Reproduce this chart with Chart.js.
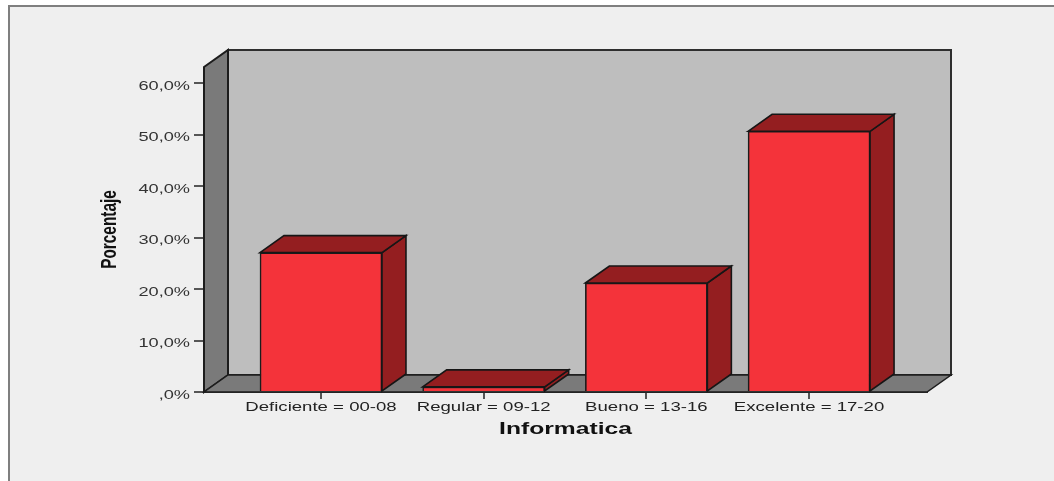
<!DOCTYPE html>
<html><head><meta charset="utf-8">
<style>
html,body{margin:0;padding:0;background:#fff;width:1054px;height:481px;overflow:hidden}
#frame{position:absolute;left:8px;top:5px;width:1046px;height:476px;box-sizing:border-box;background:#efefef;border-left:2px solid #7f7f7f;border-top:2px solid #7f7f7f}
#box{position:absolute;left:0;top:0;width:1054px;height:481px}
</style>
<script src="https://cdn.jsdelivr.net/npm/chart.js@4"></script>
</head><body>
<div id="frame"></div>
<div id="box"><canvas id="c" width="1054" height="481"></canvas></div>
<script>
const categories = ["Deficiente = 00-08","Regular = 09-12","Bueno = 13-16","Excelente = 17-20"];
const percentages = [27.1, 1.0, 21.2, 50.7];
const yTicks = [0,10,20,30,40,50,60];
const yTickLabels = [",0%","10,0%","20,0%","30,0%","40,0%","50,0%","60,0%"];
const xTitle = "Informatica";
const yTitle = "Porcentaje";
const DX = 24, DY = -17;

function poly(ctx, pts, fill, stroke, lw){
  ctx.beginPath();
  pts.forEach((p,i)=> i ? ctx.lineTo(p[0],p[1]) : ctx.moveTo(p[0],p[1]));
  ctx.closePath();
  ctx.fillStyle = fill; ctx.fill();
  ctx.strokeStyle = stroke; ctx.lineWidth = lw; ctx.lineJoin='miter'; ctx.stroke();
}
const walls = {
  id:'walls',
  beforeDatasetsDraw(chart){
    const {ctx, chartArea:a} = chart;
    ctx.save();
    poly(ctx,[[a.left+DX,a.top+DY],[a.right+DX,a.top+DY],[a.right+DX,a.bottom+DY],[a.left+DX,a.bottom+DY]],'#bebebe','#2e2e2e',2);
    poly(ctx,[[a.left,a.top],[a.left+DX,a.top+DY],[a.left+DX,a.bottom+DY],[a.left,a.bottom]],'#7a7a7a','#1c1c1c',2);
    poly(ctx,[[a.left,a.bottom],[a.left+DX,a.bottom+DY],[a.right+DX,a.bottom+DY],[a.right,a.bottom]],'#7a7a7a','#1c1c1c',1.5);
    ctx.restore();
  }
};
const bars3d = {
  id:'bars3d',
  afterDatasetsDraw(chart){
    const ctx = chart.ctx;
    ctx.save();
    chart.getDatasetMeta(0).data.forEach(b=>{
      const p = b.getProps(['x','y','base','width'],true);
      const l=p.x-p.width/2, r=p.x+p.width/2, t=p.y, bt=p.base;
      poly(ctx,[[r,t],[r+DX,t+DY],[r+DX,bt+DY],[r,bt]],'#941e20','#161616',1.6);
      poly(ctx,[[l,t],[l+DX,t+DY],[r+DX,t+DY],[r,t]],'#941e20','#161616',1.6);
    });
    ctx.restore();
  }
};
// The reference is a horizontally stretched raster: scale each text run about its anchor.
const stretch = {labels:{x:1.43,y:1.4}, title:{x:1.54,y:0.7}};
const nudge = {labels:{x:-1,y:3}, title:{x:1,y:0}};
function patchScale(scale){
  if(scale.__patched) return;
  scale.__patched = true;
  const ctx = scale.ctx;
  if(!ctx.__orig){
    ctx.__orig = ctx.fillText;
    ctx.__sx = 1; ctx.__dy = 0;
    ctx.fillText = function(t,x,y,m){
      this.save(); this.translate(x,y+this.__dy); this.scale(this.__sx,1);
      this.__orig(t,0,0);
      this.restore();
    };
  }
  const dl = scale.drawLabels, dt = scale.drawTitle, id = scale.id;
  scale.drawLabels = function(a){ctx.__sx=stretch.labels[id]; ctx.__dy=nudge.labels[id]; dl.call(this,a); ctx.__sx=1; ctx.__dy=0;};
  scale.drawTitle = function(a){ctx.__sx=stretch.title[id]; ctx.__dy=nudge.title[id]; dt.call(this,a); ctx.__sx=1; ctx.__dy=0;};
}
new Chart(document.getElementById('c'),{
  type:'bar',
  data:{datasets:[{
    data:categories.map((c,i)=>({x:i,y:percentages[i]})),
    backgroundColor:'#f4333a',borderColor:'#1c1c1c',borderWidth:1.6,borderSkipped:'bottom',barThickness:122
  }]},
  plugins:[walls,bars3d],
  options:{
    responsive:false,animation:false,
    layout:{padding:{left:97,right:127,top:67,bottom:43}},
    plugins:{legend:{display:false},tooltip:{enabled:false}},
    scales:{
      x:{type:'linear',min:-0.719,max:3.725,offset:false,
        afterBuildTicks(s){s.ticks=categories.map((c,i)=>({value:i}));},
        afterFit(s){s.height=46;patchScale(s);},
        grid:{display:true,offset:false,drawOnChartArea:false,drawTicks:true,tickLength:7,color:'#555',lineWidth:2},
        border:{display:true,color:'#3a3a3a',width:2},
        ticks:{autoSkip:false,maxRotation:0,minRotation:0,padding:2,color:'#222',
          font:{family:'Liberation Sans',size:13},
          callback:v=>categories[v]},
        title:{display:true,text:xTitle,color:'#111',padding:0,font:{family:'Liberation Sans',size:16,weight:'bold'}}
      },
      y:{min:0,max:63.2,
        afterBuildTicks(s){s.ticks=yTicks.map(v=>({value:v}));},
        afterFit(s){s.width=107;patchScale(s);},
        grid:{display:true,offset:false,drawOnChartArea:false,drawTicks:true,tickLength:10,color:'#555',lineWidth:2},
        border:{display:false},
        ticks:{padding:4,color:'#333',font:{family:'Liberation Sans',size:13},
          callback:v=>yTickLabels[yTicks.indexOf(v)]},
        title:{display:true,text:yTitle,color:'#111',padding:0,font:{family:'Liberation Sans',size:22,weight:'bold'}}
      }
    }
  }
});
</script>
</body></html>
